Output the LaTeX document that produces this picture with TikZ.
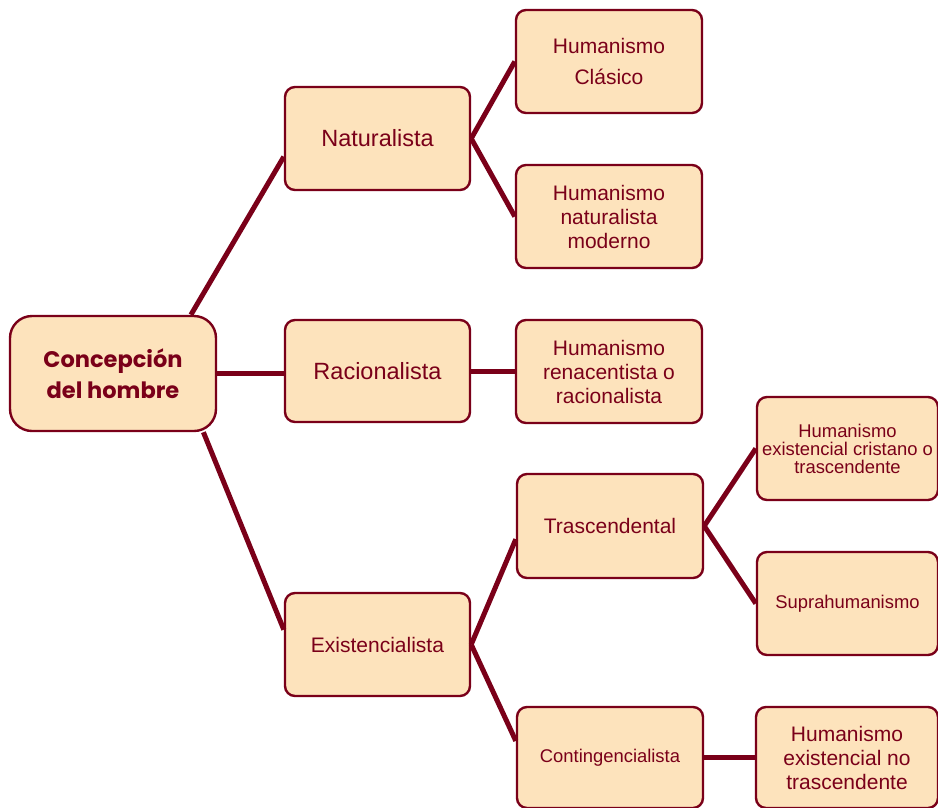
\documentclass[tikz,border=0pt]{standalone}
\usepackage{fontspec}
\setmainfont{Liberation Sans}
\newfontfamily\titlefont{Poppins}
\definecolor{wine}{HTML}{7A0019}
\definecolor{cream}{HTML}{FDE3BC}
\begin{document}
\begin{tikzpicture}[x=1pt,y=-1pt,
  box/.style={draw=wine, fill=cream, line width=2.4pt, rounded corners=10pt,
    text=wine, align=center, inner sep=0pt},
  conn/.style={draw=wine, line width=5pt},
  fA/.style={font=\fontsize{23.5}{27}\selectfont},
  fB/.style={font=\fontsize{21}{24}\selectfont},
  fC/.style={font=\fontsize{18.4}{18}\selectfont},
]
\useasboundingbox (0,0) rectangle (938,807);
\node[box, minimum width=206pt, minimum height=115pt, rounded corners=22pt,
  font=\titlefont\bfseries\fontsize{22.5}{31}\selectfont] (conc) at (113,373.5) {Concepción\\del hombre};
\node[box, fA, minimum width=185pt, minimum height=103pt] (nat) at (377.5,138.5) {Naturalista};
\node[box, fA, minimum width=185pt, minimum height=102pt] (rac) at (377.5,371) {Racionalista};
\node[box, fB, minimum width=185pt, minimum height=103pt] (exi) at (377.5,644.5) {Existencialista};
\node[box, fB, minimum width=186pt, minimum height=103pt, font=\fontsize{21}{31}\selectfont] (hcl) at (609,61.5) {Humanismo\\Clásico};
\node[box, fB, minimum width=186pt, minimum height=103pt] (hnm) at (609,216.5) {Humanismo\\naturalista\\moderno};
\node[box, fB, minimum width=186pt, minimum height=103pt] (hre) at (609,371.5) {Humanismo\\renacentista o\\racionalista};
\node[box, fB, minimum width=186pt, minimum height=104pt] (tra) at (610,526) {Trascendental};
\node[box, fC, minimum width=186pt, minimum height=101pt] (con) at (610,757.5) {Contingencialista};
\node[box, fC, minimum width=181pt, minimum height=103pt] (hec) at (847.5,448.5) {Humanismo\\existencial cristano o\\trascendente};
\node[box, fC, minimum width=181pt, minimum height=103pt] (sup) at (847.5,603.5) {Suprahumanismo};
\node[box, fB, minimum width=182pt, minimum height=101pt] (hen) at (847,757.5) {Humanismo\\existencial no\\trascendente};
\draw[conn] (conc.37) -- (nat.191);
\draw[conn] (conc.east) -- (conc.east -| rac.west);
\draw[conn] (conc.-33) -- (exi.171);
\draw[conn] (nat.east) -- (hcl.west);
\draw[conn] (nat.east) -- (hnm.west);
\draw[conn] (rac.east) -- (rac.east -| hre.west);
\draw[conn] (exi.east) -- (tra.188);
\draw[conn] (exi.east) -- (con.170);
\draw[conn] (tra.east) -- (hec.west);
\draw[conn] (tra.east) -- (sup.west);
\draw[conn] (con.east) -- (hen.west);
\end{tikzpicture}
\end{document}
